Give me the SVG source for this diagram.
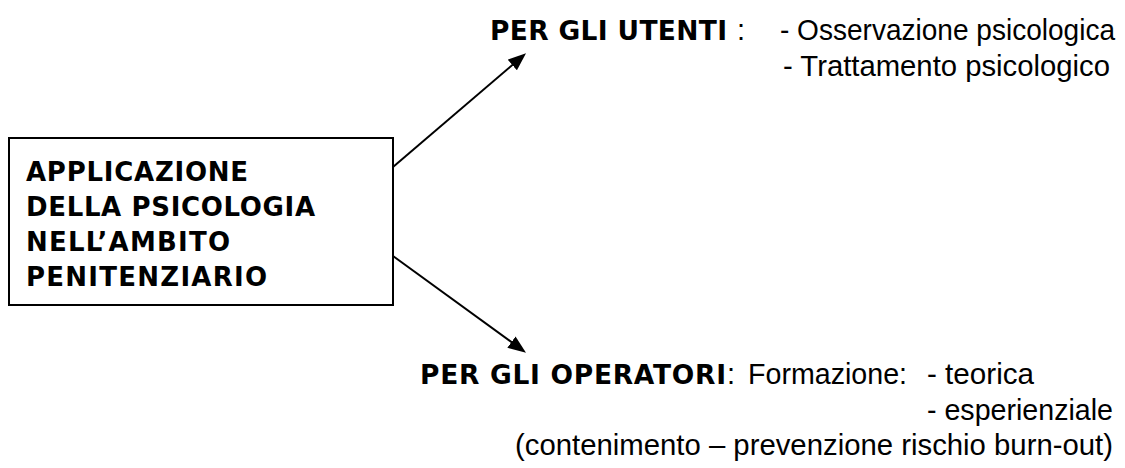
<svg xmlns="http://www.w3.org/2000/svg" width="1125" height="468" viewBox="0 0 1125 468">
<style>
.b{font-family:"DejaVu Sans","Liberation Sans",sans-serif;font-weight:bold;fill:#000}
.bx{font-size:26px}
.lb{font-size:26.5px}
.r{font-family:"Liberation Sans",Arial,sans-serif;font-size:29px;fill:#000}
.conn{stroke:#000;stroke-width:2;fill:none}
</style>
<defs>
<marker id="ah" markerUnits="userSpaceOnUse" markerWidth="18" markerHeight="14" refX="6" refY="7" orient="auto">
<path d="M0,0 L18,7 L0,14 z" fill="#000"/>
</marker>
</defs>
<rect width="1125" height="468" fill="#fff"/>
<g id="box">
<rect x="9" y="138" width="384" height="167" fill="#fff" stroke="#000" stroke-width="2"/>
<text class="b bx" x="26" y="181" textLength="222" lengthAdjust="spacing">APPLICAZIONE</text>
<text class="b bx" x="26" y="216" textLength="289" lengthAdjust="spacing">DELLA PSICOLOGIA</text>
<text class="b bx" x="26" y="251" textLength="204" lengthAdjust="spacing">NELL’AMBITO</text>
<text class="b bx" x="26" y="286" textLength="241" lengthAdjust="spacing">PENITENZIARIO</text>
</g>
<g id="utenti">
<text class="b lb" x="490" y="40" textLength="237" lengthAdjust="spacing">PER GLI UTENTI</text>
<text class="r" x="737" y="40">:</text>
<text class="r" x="780" y="40" textLength="335" lengthAdjust="spacingAndGlyphs">- Osservazione psicologica</text>
<text class="r" x="783" y="76" textLength="327" lengthAdjust="spacingAndGlyphs">- Trattamento psicologico</text>
</g>
<g id="operatori">
<text class="b lb" x="420" y="384" textLength="306" lengthAdjust="spacing">PER GLI OPERATORI</text>
<text class="r" x="727" y="384">:</text>
<text class="r" x="748" y="384" textLength="159" lengthAdjust="spacingAndGlyphs">Formazione:</text>
<text class="r" x="927" y="384" textLength="107" lengthAdjust="spacingAndGlyphs">- teorica</text>
<text class="r" x="927" y="420" textLength="186" lengthAdjust="spacingAndGlyphs">- esperienziale</text>
<text class="r" x="515" y="455" textLength="598" lengthAdjust="spacingAndGlyphs">(contenimento – prevenzione rischio burn-out)</text>
</g>
<g id="connectors">
<line class="conn" x1="393" y1="167" x2="516.9" y2="61.1" marker-end="url(#ah)"/>
<line class="conn" x1="393" y1="256" x2="516.3" y2="345.6" marker-end="url(#ah)"/>
</g>
</svg>
